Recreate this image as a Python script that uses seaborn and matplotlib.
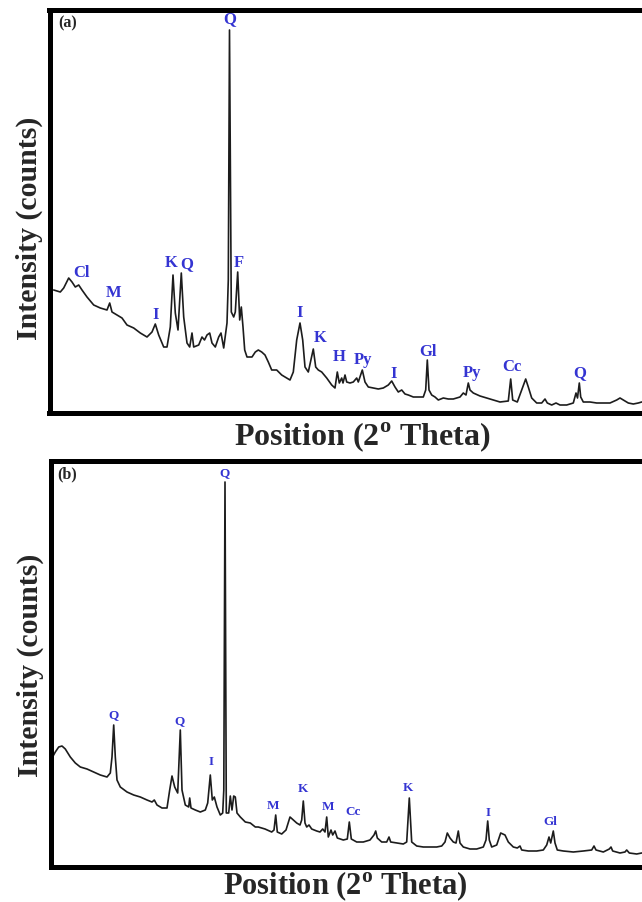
import matplotlib
matplotlib.use("Agg")
import matplotlib.pyplot as plt
import pandas as pd
import seaborn as sns

# Panel (a) trace: position along the scan and intensity (relative counts)
pos_a = [53.7, 60.3, 63.7, 68.7, 72, 75.3, 78.7, 82, 87, 93.7, 100.3, 107, 109.7, 112, 117,
         122, 127, 133.7, 140.3, 147, 152, 155.3, 158.7, 163.7, 167, 170.3, 173, 175.3, 178,
         181.3, 183.7, 187, 189.7, 192, 193.7, 198.7, 202, 204.5, 207, 209.7, 212, 215.3,
         218.7, 221, 223.7, 227, 228.3, 229.5, 231.3, 233.7, 235.3, 237.7, 239.7, 241.3, 243,
         244.7, 247, 252, 255.3, 258.3, 261.7, 265, 268.3, 271.7, 276.7, 281.7, 286.7, 290,
         293.3, 296.7, 300, 302.7, 305, 308.3, 313.3, 315.7, 318.3, 321.7, 326.7, 331.7, 335,
         337.3, 339.3, 341.7, 343, 345, 346.7, 350, 353.3, 356.7, 358.3, 360, 362.3, 365,
         368.3, 373.3, 378.3, 383.3, 388.3, 391.7, 395, 398.3, 401.7, 405, 408.3, 413.3,
         418.3, 423.3, 425.7, 427.3, 429, 431.7, 435, 438.3, 443.3, 448.3, 453.3, 460, 463.3,
         466, 468.3, 470, 473.3, 480, 486.7, 493.3, 500, 508.3, 510.7, 512.7, 517.3, 521.7,
         525.7, 528.3, 531.7, 536.7, 541.7, 545, 547.3, 551.7, 556, 560, 566.7, 573.3, 576,
         577.5, 579.3, 580.7, 583.3, 590, 596.7, 605, 610, 616.7, 620, 623.3, 628.3, 633.3,
         638.3, 641.7, 660, 680]
int_a = [123, 121, 125, 135, 131, 126, 128, 123, 116, 108, 105, 103, 110, 101, 98,
         95, 88, 85, 80, 76, 81, 89, 78, 66, 66, 86, 138, 100, 83,
         140, 96, 70, 66, 80, 66, 68, 76, 73, 78, 80, 70, 66,
         76, 80, 65, 90, 133, 383, 101, 96, 101, 141, 93, 106, 86,
         63, 56, 56, 61, 63, 61, 58, 51, 43, 43, 38, 35, 33,
         41, 73, 90, 73, 46, 41, 64, 46, 43, 41, 35, 28, 25,
         41, 30, 35, 30, 38, 31, 30, 31, 35, 31, 36, 43, 31,
         26, 25, 24, 25, 28, 32, 26, 21, 23, 19, 18, 16,
         16, 16, 23, 53, 23, 18, 16, 13, 15, 14, 14, 16, 20,
         18, 30, 23, 20, 17, 15, 13, 11, 12, 34, 13, 11, 23,
         34, 26, 15, 10, 10, 14, 10, 8, 10, 8, 8, 10, 20,
         15, 30, 16, 11, 11, 10, 10, 10, 13, 15, 13, 10, 9,
         10, 11, 9, 9]

# Panel (b) trace
pos_b = [52, 55.3, 58.7, 62, 65.3, 70.3, 75.3, 80.3, 87, 93.7, 100.3, 107, 110.3, 112, 113.7,
         115.3, 117, 120.3, 127, 133.7, 140.3, 147, 152, 154.3, 157, 162, 167, 169.7, 172,
         174.7, 177.7, 180.3, 182, 185.3, 188.7, 189.7, 191, 195.3, 200.3, 205.3, 207.7,
         210.3, 212.3, 214.3, 217, 220.3, 222.7, 223.8, 225, 226.3, 228.7, 230.3, 232, 233.7,
         235.3, 237, 240.3, 245.3, 250.3, 255.3, 258.3, 265, 271.7, 274, 275.7, 277.3, 281.7,
         286, 290, 293.3, 296.7, 300, 301.7, 303.3, 305, 306.7, 309, 311.7, 316.7, 320, 322.7,
         325, 326.7, 328.3, 331, 332.7, 335, 337.3, 343.3, 347.3, 349.3, 351.3, 356.7, 363.3,
         370, 374, 375.7, 377.3, 381.7, 386.7, 389, 390.7, 396.7, 403.3, 406.7, 409.3, 411.7,
         416.7, 423.3, 430, 436.7, 441.7, 445, 447.3, 450, 453.3, 456, 458.3, 460, 463.3, 470,
         476.7, 483.3, 486, 487.7, 489.3, 491.7, 496.7, 500.7, 505, 508.3, 513.3, 517.3, 520,
         521.7, 528.3, 536.7, 543.3, 546.7, 549, 550.7, 553.3, 555, 557.3, 563.3, 573.3,
         583.3, 591.7, 594, 596, 603.3, 609.3, 611, 612.7, 620, 625, 626.7, 629.3, 636.7,
         641.7, 660, 680]
int_b = [109, 115, 120, 121, 118, 110, 104, 100, 98, 95, 92, 90, 94, 110, 142,
         110, 87, 80, 75, 72, 70, 67, 65, 67, 62, 59, 59, 77, 91,
         80, 74, 137, 77, 62, 60, 69, 59, 57, 55, 57, 64,
         92, 67, 70, 60, 52, 54, 77, 385, 54, 54, 71, 57, 71,
         70, 54, 50, 45, 44, 40, 40, 38, 35, 37, 52, 35, 33,
         37, 50, 47, 44, 42, 47, 66, 44, 40, 42, 38, 36, 35, 38,
         35, 50, 30, 37, 32, 36, 29, 27, 28, 45, 28, 25, 25,
         27, 32, 36, 29, 25, 25, 30, 25, 24, 23, 25, 69, 25,
         21, 20, 20, 20, 21, 25, 34, 29, 25, 24, 36, 24, 20, 18,
         18, 20, 27, 46, 27, 20, 22, 34, 32, 25, 20, 19, 21,
         17, 16, 16, 17, 22, 30, 24, 36, 24, 17, 16, 15,
         16, 17, 21, 17, 15, 18, 20, 16, 14, 15, 17, 14, 13,
         14, 13, 13]

# Phase labels (mineral, position, label height)
phase_a = ["Cl", "M", "I", "K", "Q", "Q", "F", "I", "K", "H", "Py", "I", "Gl", "Py", "Cc", "Q"]
phase_a_x = [82, 113.7, 155.3, 171, 186.3, 230, 239.3, 300, 320, 339.3, 363.3, 393.3, 427.7,
             471.7, 511.7, 579.3]
phase_a_y = [140, 120, 98, 150, 149, 394, 150, 100, 75, 56, 53, 39, 61, 40, 46, 40]

phase_b = ["Q", "Q", "I", "Q", "M", "K", "M", "Cc", "K", "I", "Gl"]
phase_b_x = [113.3, 179, 210.7, 224, 272.7, 303.3, 328.3, 352.7, 408.3, 487.7, 550.7]
phase_b_y = [152, 146, 105, 394, 61, 78, 60, 55, 79, 54, 45]

sns.set_style("white")
plt.rcParams["font.family"] = ["Liberation Serif", "DejaVu Serif"]
plt.rcParams["mathtext.fontset"] = "custom"
plt.rcParams["mathtext.rm"] = "Liberation Serif"
plt.rcParams["mathtext.bf"] = "Liberation Serif:bold"

BLUE = "#3434d2"
W, H = 642, 902

fig = plt.figure(figsize=(W / 100, H / 100), dpi=100)

panels = [
    dict(pos=pos_a, inten=int_a, names=phase_a, nx=phase_a_x, ny=phase_a_y, tag="(a)",
         left=49.5, top=9.5, bottom=413, lab_size=12, ylab_y=0.458, xlab_x=0.496,
         xlab_y=-0.06, xlab_size=23, tag_xy=(0.028, 0.966)),
    dict(pos=pos_b, inten=int_b, names=phase_b, nx=phase_b_x, ny=phase_b_y, tag="(b)",
         left=50.5, top=461.5, bottom=867, lab_size=9.5, ylab_y=0.498, xlab_x=0.468,
         xlab_y=-0.047, xlab_size=22, tag_xy=(0.026, 0.967)),
]

right = 680
for p in panels:
    ax = fig.add_axes([p["left"] / W, 1 - p["bottom"] / H,
                       (right - p["left"]) / W, (p["bottom"] - p["top"]) / H])
    df = pd.DataFrame({"pos": p["pos"], "intensity": p["inten"]})
    sns.lineplot(data=df, x="pos", y="intensity", ax=ax, estimator=None,
                 color="#1c1c1c", linewidth=1.2)
    ax.set_xlim(p["left"], right)
    ax.set_ylim(0, p["bottom"] - p["top"])
    ax.set_xticks([])
    ax.set_yticks([])
    for s in ax.spines.values():
        s.set_linewidth(3.6)
        s.set_color("black")

    for name, x, y in zip(p["names"], p["nx"], p["ny"]):
        ax.text(x, y, name, color=BLUE, fontsize=p["lab_size"], fontweight="bold",
                ha="center", va="center")

    ax.text(p["tag_xy"][0], p["tag_xy"][1], p["tag"], transform=ax.transAxes,
            fontsize=11.5, fontweight="bold", ha="center", va="center")

    ax.set_ylabel("Intensity (counts)", fontsize=21.5, fontweight="bold", va="center")
    ax.yaxis.set_label_coords(-0.032, p["ylab_y"])
    ax.set_xlabel(r"Position (2$^{\mathbf{o}}$ Theta)", fontsize=p["xlab_size"],
                  fontweight="bold", va="center")
    ax.xaxis.set_label_coords(p["xlab_x"], p["xlab_y"])

fig.savefig("out.png", dpi=100)
